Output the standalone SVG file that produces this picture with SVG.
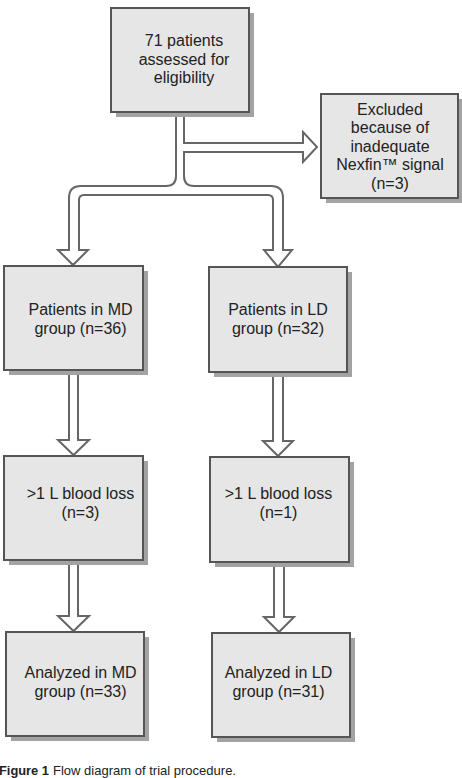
<svg xmlns="http://www.w3.org/2000/svg" width="462" height="778" viewBox="0 0 462 778">
<style>
.box{fill:#e6e6e6;stroke:#555;stroke-width:2}
.sh{fill:#a3a3a3}
.t{font-family:"Liberation Sans",Arial,sans-serif;font-size:16px;fill:#222;text-anchor:middle}
.c{fill:#fff;stroke:#666;stroke-width:2;stroke-linejoin:miter}
.cap{font-family:"Liberation Sans",Arial,sans-serif;font-size:13px;fill:#222}
</style>
<rect width="462" height="778" fill="#fff"/>
<g id="connectors">
<path class="c" d="M184,112 V143 H303 V132 L317,147 L303,162 V152 H184 V176 Q184,186 194,186 H271 Q283,186 283,198 V250 H292 L278,267 L264,250 H273 V200 Q273,195 268,195 H84 Q79,195 79,200 V250 H88 L73,265 L58,250 H69 V198 Q69,186 81,186 H166 Q176,186 176,176 V112 Z"/>
<path class="c" d="M69,370 V440 H58 L73.5,455 L89,440 H78 V370 Z"/>
<path class="c" d="M273,372 V441 H263 L278,456 L293,441 H283 V372 Z"/>
<path class="c" d="M69,560 V616 H58 L73.5,631 L89,616 H78 V560 Z"/>
<path class="c" d="M274,562 V617 H264 L279,632 L294,617 H284 V562 Z"/>
</g>
<g id="n-assessed">
<rect class="sh" x="116" y="13" width="138" height="104"/>
<rect class="box" x="111" y="8" width="138" height="104"/>
<text class="t" x="184" y="46">71 patients</text>
<text class="t" x="184" y="64.5">assessed for</text>
<text class="t" x="184" y="83">eligibility</text>
</g>
<g id="n-excluded">
<rect class="sh" x="326" y="99" width="137" height="104"/>
<rect class="box" x="321" y="94" width="137" height="104"/>
<text class="t" x="390" y="114.5">Excluded</text>
<text class="t" x="390" y="133">because of</text>
<text class="t" x="390" y="151.5">inadequate</text>
<text class="t" x="390" y="170">Nexfin™ signal</text>
<text class="t" x="390" y="188.5">(n=3)</text>
</g>
<g id="n-md">
<rect class="sh" x="9" y="271" width="139" height="104"/>
<rect class="box" x="4" y="266" width="139" height="104"/>
<text class="t" x="80.5" y="315">Patients in MD</text>
<text class="t" x="80.5" y="333.5">group (n=36)</text>
</g>
<g id="n-ld">
<rect class="sh" x="214" y="272" width="138" height="105"/>
<rect class="box" x="209" y="267" width="138" height="105"/>
<text class="t" x="278" y="315">Patients in LD</text>
<text class="t" x="278" y="333.5">group (n=32)</text>
</g>
<g id="n-md-loss">
<rect class="sh" x="9" y="461" width="139" height="104"/>
<rect class="box" x="4" y="456" width="139" height="104"/>
<text class="t" x="80.5" y="499">&gt;1 L blood loss</text>
<text class="t" x="80.5" y="518">(n=3)</text>
</g>
<g id="n-ld-loss">
<rect class="sh" x="215" y="462" width="139" height="105"/>
<rect class="box" x="210" y="457" width="139" height="105"/>
<text class="t" x="278.5" y="499">&gt;1 L blood loss</text>
<text class="t" x="278.5" y="518">(n=1)</text>
</g>
<g id="n-md-analyzed">
<rect class="sh" x="11" y="637" width="138" height="104"/>
<rect class="box" x="6" y="632" width="138" height="104"/>
<text class="t" x="80.5" y="678">Analyzed in MD</text>
<text class="t" x="80.5" y="697">group (n=33)</text>
</g>
<g id="n-ld-analyzed">
<rect class="sh" x="217" y="638" width="138" height="104"/>
<rect class="box" x="212" y="633" width="138" height="104"/>
<text class="t" x="278.5" y="678">Analyzed in LD</text>
<text class="t" x="278.5" y="697">group (n=31)</text>
</g>
<text class="cap" x="-1" y="775"><tspan font-weight="bold" textLength="50" lengthAdjust="spacingAndGlyphs">Figure 1</tspan><tspan x="53" textLength="183" lengthAdjust="spacingAndGlyphs">Flow diagram of trial procedure.</tspan></text>
</svg>
